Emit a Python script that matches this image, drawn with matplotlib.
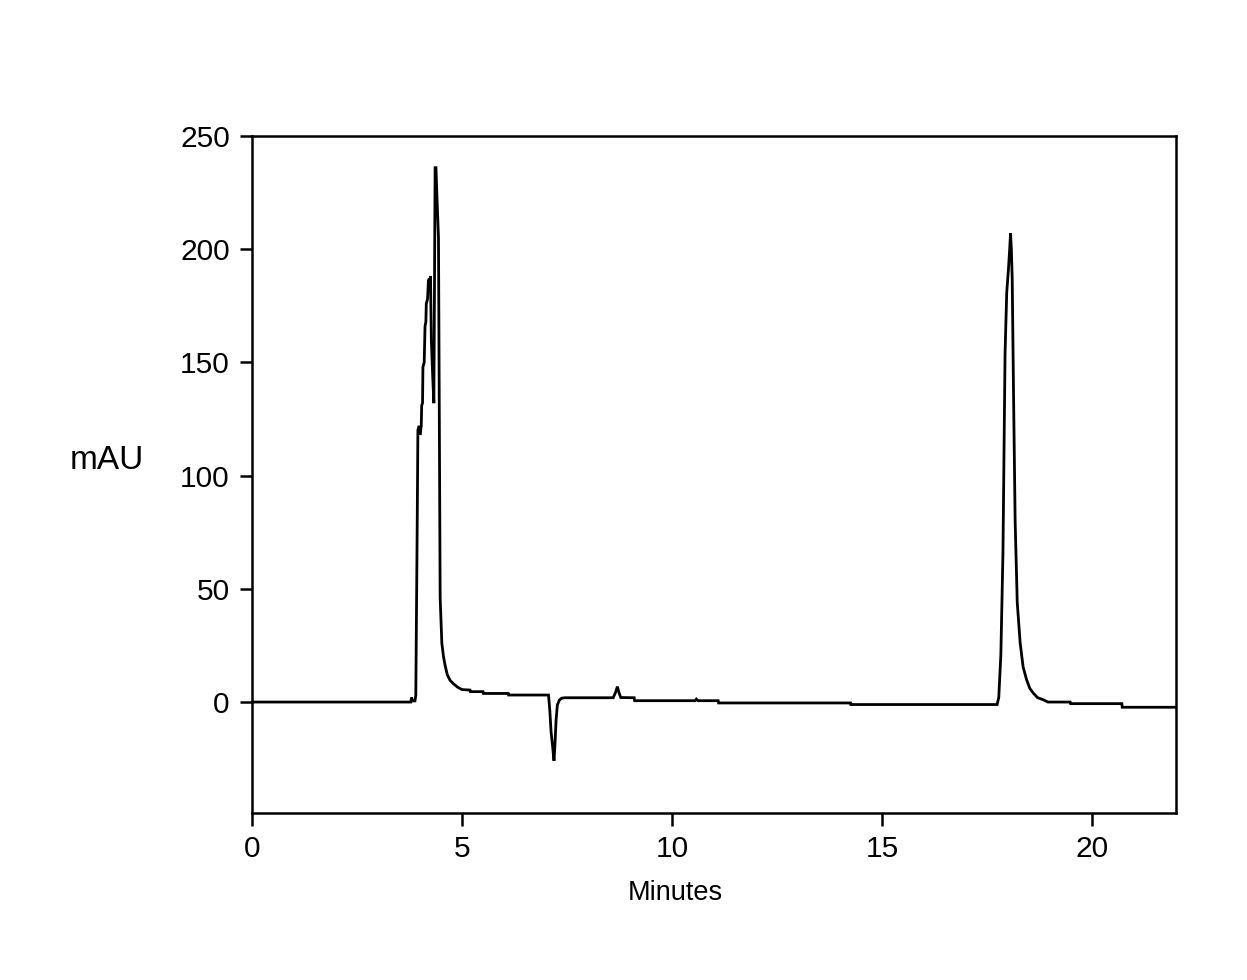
import matplotlib
matplotlib.use("Agg")
import matplotlib.pyplot as plt

plt.rcParams['font.family'] = ['Liberation Sans', 'DejaVu Sans']

time_min = [0.0, 3.78, 3.80, 3.82, 3.88, 3.90, 3.93, 3.95, 3.98, 4.00, 4.03, 4.04, 4.06,
            4.07, 4.10, 4.12, 4.14, 4.15, 4.18, 4.20, 4.22, 4.23, 4.25, 4.27, 4.30, 4.33,
            4.36, 4.38, 4.40, 4.44, 4.48, 4.52, 4.56, 4.60, 4.65, 4.72, 4.80, 4.90, 5.00,
            5.19, 5.20, 5.50, 5.51, 6.10, 6.11, 7.06, 7.09, 7.12, 7.16, 7.19, 7.21, 7.24,
            7.27, 7.32, 7.37, 7.45, 8.60, 8.65, 8.70, 8.74, 8.78, 9.10, 9.11, 10.55, 10.58,
            10.62, 11.10, 11.11, 14.25, 14.26, 17.74, 17.78, 17.83, 17.88, 17.93, 17.97,
            18.01, 18.04, 18.06, 18.08, 18.10, 18.13, 18.17, 18.22, 18.29, 18.36, 18.44,
            18.52, 18.60, 18.70, 18.84, 18.95, 19.48, 19.49, 20.71, 20.72, 22.0]
absorbance_mau = [0, 0, 2, 0.5, 0.5, 3, 70, 120, 122, 118, 122, 131, 132,
                  148, 150, 166, 168, 176, 178, 186, 187, 183, 188, 160, 145, 132,
                  236, 236, 225, 205, 46, 26, 20, 16, 12, 9.5, 8, 6.5, 5.5,
                  5.3, 4.6, 4.6, 3.8, 3.8, 3.1, 3.1, -3.5, -13, -20, -26, -20, -8,
                  -1.3, 0.9, 1.7, 1.9, 1.9, 4, 6.8, 4, 2, 1.9, 0.6, 0.6, 1.3,
                  0.6, 0.6, -0.4, -0.4, -1.1, -1.1, 2, 21, 66, 154, 181,
                  191, 200, 207, 200, 187, 139, 80, 44, 26, 15.5, 10,
                  6, 4, 2, 1, 0, 0, -0.7, -0.7, -2.3, -2.3]

x_ticks = [0, 5, 10, 15, 20]
y_ticks = [0, 50, 100, 150, 200, 250]

fig = plt.figure(figsize=(12.47, 9.8), dpi=100)
ax = fig.add_axes([252/1247, 1-813/980, (1176-252)/1247, (813-136)/980])
ax.plot(time_min, absorbance_mau, color='black', lw=2.0, solid_joinstyle='miter')
ax.set_xlim(0, 22)
ax.set_ylim(-49, 250)
ax.set_xticks(x_ticks)
ax.set_yticks(y_ticks)
for s in ax.spines.values():
    s.set_linewidth(1.8)
ax.tick_params(direction='out', length=9, width=1.8, labelsize=21.5, pad=7)
fig.text(107/1247, 1-460/980, 'mAU', fontsize=24, ha='center', va='center')
fig.text(675/1247, 1-893/980, 'Minutes', fontsize=19.5, ha='center', va='center')
fig.savefig('out.png', dpi=100)
